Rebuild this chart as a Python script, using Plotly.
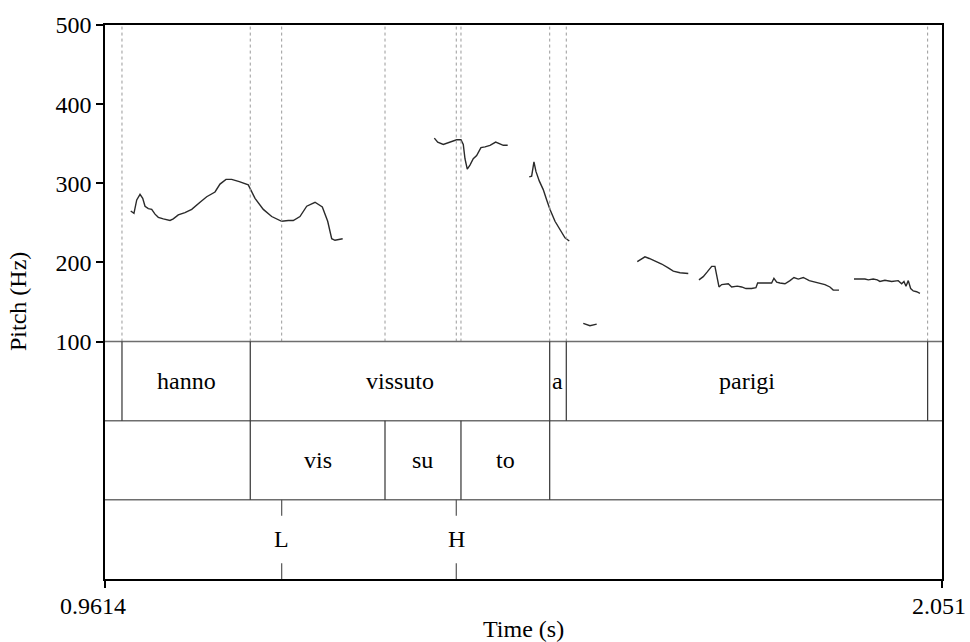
import plotly.graph_objects as go

# ---------------- data ----------------
T_MIN, T_MAX = 0.9614, 2.051
y_ticks = [100, 200, 300, 400, 500]
x_tick_labels = ["0.9614", "2.051"]

# pitch contour segments (time s, pitch Hz)
seg1_t = [0.9949, 0.9991, 1.0027, 1.0070, 1.0105, 1.0135, 1.0178, 1.0222, 1.0265, 1.0308,
          1.0373, 1.0460, 1.0503, 1.0568, 1.0655, 1.0743, 1.0851, 1.0938, 1.1046, 1.1111,
          1.1189, 1.1263, 1.1362, 1.1479, 1.1567, 1.1675, 1.1784, 1.1914, 1.2000, 1.2065,
          1.2152, 1.2240, 1.2348, 1.2443, 1.2513, 1.2565, 1.2608, 1.2708]
seg1_f = [265, 262, 279, 286, 281, 271, 268, 267, 261, 257,
          255, 253, 255, 260, 263, 267, 276, 283, 289, 299,
          305, 305, 302, 298, 281, 267, 258, 252, 253, 253,
          258, 271, 276, 270, 252, 230, 228, 230]

seg2_t = [1.3901, 1.3945, 1.4018, 1.4105, 1.4192, 1.4248, 1.4278, 1.4300, 1.4330, 1.4365,
          1.4408, 1.4452, 1.4508, 1.4561, 1.4626, 1.4700, 1.4756, 1.4799, 1.4856]
seg2_f = [357, 352, 349, 352, 355, 355, 349, 331, 318, 323,
          331, 335, 345, 346, 348, 352, 350, 348, 348]

seg3_t = [1.5137, 1.5168, 1.5198, 1.5224, 1.5267, 1.5319, 1.5364, 1.5407, 1.5472, 1.5537,
          1.5602, 1.5658]
seg3_f = [308, 309, 327, 315, 303, 292, 279, 267, 252, 241, 231, 227]

seg4_t = [1.5840, 1.5927, 1.6015]
seg4_f = [123, 120, 122]

seg5_t = [1.6543, 1.6587, 1.6643, 1.6699, 1.6773, 1.6861, 1.6946, 1.7012, 1.7099, 1.7207]
seg5_f = [201, 204, 207, 205, 202, 198, 193, 189, 187, 186]

seg6_t = [1.7346, 1.7402, 1.7454, 1.7512, 1.7554, 1.7584, 1.7607, 1.7642, 1.7728, 1.7772,
          1.7845, 1.7902, 1.7958, 1.8032, 1.8088, 1.8110, 1.8183, 1.8292, 1.8322, 1.8358,
          1.8400, 1.8466, 1.8531, 1.8583, 1.8639, 1.8704, 1.8782, 1.8856, 1.8921, 1.8986,
          1.9051, 1.9094, 1.9169]
seg6_f = [178, 182, 188, 195, 195, 177, 169, 172, 173, 169,
          170, 169, 167, 167, 168, 174, 174, 174, 180, 175,
          174, 173, 177, 181, 179, 181, 177, 175, 173, 172,
          169, 165, 165]

seg7_t = [1.9364, 1.9442, 1.9507, 1.9550, 1.9615, 1.9667, 1.9702, 1.9767, 1.9855, 1.9940,
          1.9985, 2.0015, 2.0041, 2.0071, 2.0102, 2.0136, 2.0180, 2.0223]
seg7_f = [179, 179, 179, 178, 179, 178, 176, 177.5, 176, 177,
          173, 176, 170, 177, 167, 164, 163, 161]

segments = [(seg1_t, seg1_f), (seg2_t, seg2_f), (seg3_t, seg3_f), (seg4_t, seg4_f),
            (seg5_t, seg5_f), (seg6_t, seg6_f), (seg7_t, seg7_f)]

# TextGrid tiers
words_bounds = [0.9835, 1.1505, 1.5403, 1.5619, 2.0323]
words_labels = ["hanno", "vissuto", "a", "parigi"]

syll_bounds = [1.1505, 1.3259, 1.4248, 1.5403]
syll_labels = ["vis", "su", "to"]

tone_times = [1.1914, 1.4187]
tone_labels = ["L", "H"]

# ---------------- figure ----------------
TIER1 = (0, 100)
TIER2 = (-100, 0)
TIER3 = (-200, -100)
FONT = "Liberation Serif, Times New Roman, serif"
FS = 24

fig = go.Figure()
for t, f in segments:
    fig.add_trace(go.Scatter(x=t, y=f, mode="lines",
                             line=dict(color="#2a2a2a", width=1.4),
                             hoverinfo="skip", showlegend=False))

shapes = []
all_marks = sorted(set(words_bounds + syll_bounds + tone_times))
for t in all_marks:
    shapes.append(dict(type="line", xref="x", yref="y", x0=t, x1=t, y0=100, y1=500,
                       line=dict(color="#9a9a9a", width=1, dash="dot")))
for yv in [100, 0, -100]:
    shapes.append(dict(type="line", xref="x", yref="y", x0=T_MIN, x1=T_MAX, y0=yv, y1=yv,
                       line=dict(color="#6e6e6e", width=1.5)))
for t in words_bounds:
    shapes.append(dict(type="line", xref="x", yref="y", x0=t, x1=t, y0=TIER1[0], y1=TIER1[1],
                       line=dict(color="#333333", width=1.2)))
for t in syll_bounds:
    shapes.append(dict(type="line", xref="x", yref="y", x0=t, x1=t, y0=TIER2[0], y1=TIER2[1],
                       line=dict(color="#333333", width=1.2)))
for t in tone_times:
    shapes.append(dict(type="line", xref="x", yref="y", x0=t, x1=t, y0=-100, y1=-120,
                       line=dict(color="#555555", width=1.2)))
    shapes.append(dict(type="line", xref="x", yref="y", x0=t, x1=t, y0=-180, y1=-200,
                       line=dict(color="#555555", width=1.2)))

annotations = []
for i, lab in enumerate(words_labels):
    xm = (words_bounds[i] + words_bounds[i + 1]) / 2
    annotations.append(dict(x=xm, y=50, xref="x", yref="y", text=lab, showarrow=False,
                            font=dict(family=FONT, size=FS, color="black")))
for i, lab in enumerate(syll_labels):
    xm = (syll_bounds[i] + syll_bounds[i + 1]) / 2
    annotations.append(dict(x=xm, y=-50, xref="x", yref="y", text=lab, showarrow=False,
                            font=dict(family=FONT, size=FS, color="black")))
for t, lab in zip(tone_times, tone_labels):
    annotations.append(dict(x=t, y=-150, xref="x", yref="y", text=lab, showarrow=False,
                            font=dict(family=FONT, size=FS, color="black")))
# x tick labels
annotations.append(dict(x=T_MIN, y=0, xref="x", yref="paper", text=x_tick_labels[0],
                        showarrow=False, xanchor="center", yanchor="middle",
                        xshift=-12, yshift=-27, font=dict(family=FONT, size=FS, color="black")))
annotations.append(dict(x=T_MAX, y=0, xref="x", yref="paper", text=x_tick_labels[1],
                        showarrow=False, xanchor="center", yanchor="middle",
                        xshift=-3, yshift=-27, font=dict(family=FONT, size=FS, color="black")))
# axis titles
annotations.append(dict(x=0, y=0.5, xref="paper", yref="paper", text="Pitch (Hz)",
                        showarrow=False, textangle=-90, xanchor="center", yanchor="middle",
                        xshift=-87, font=dict(family=FONT, size=FS, color="black")))
annotations.append(dict(x=0.5, y=0, xref="paper", yref="paper", text="Time (s)",
                        showarrow=False, xanchor="center", yanchor="middle",
                        yshift=-50, font=dict(family=FONT, size=FS, color="black")))

fig.update_layout(
    width=970, height=642, autosize=False,
    margin=dict(l=105, r=28, t=20, b=63, pad=0),
    paper_bgcolor="white", plot_bgcolor="white",
    shapes=shapes, annotations=annotations,
    font=dict(family=FONT, size=FS, color="black"),
    showlegend=False,
)
fig.update_xaxes(range=[T_MIN, T_MAX], tickvals=[T_MIN, T_MAX], ticktext=["", ""],
                 ticks="outside", ticklen=7, tickwidth=1.5, tickcolor="black",
                 showline=True, linecolor="black", linewidth=1.6, mirror=True,
                 showgrid=False, zeroline=False)
fig.update_yaxes(range=[-200, 500], tickvals=y_ticks,
                 ticks="outside", ticklen=7, tickwidth=1.5, tickcolor="black",
                 showline=True, linecolor="black", linewidth=1.6, mirror=True,
                 showgrid=False, zeroline=False,
                 tickfont=dict(family=FONT, size=FS, color="black"))

fig.write_html("out.html")
